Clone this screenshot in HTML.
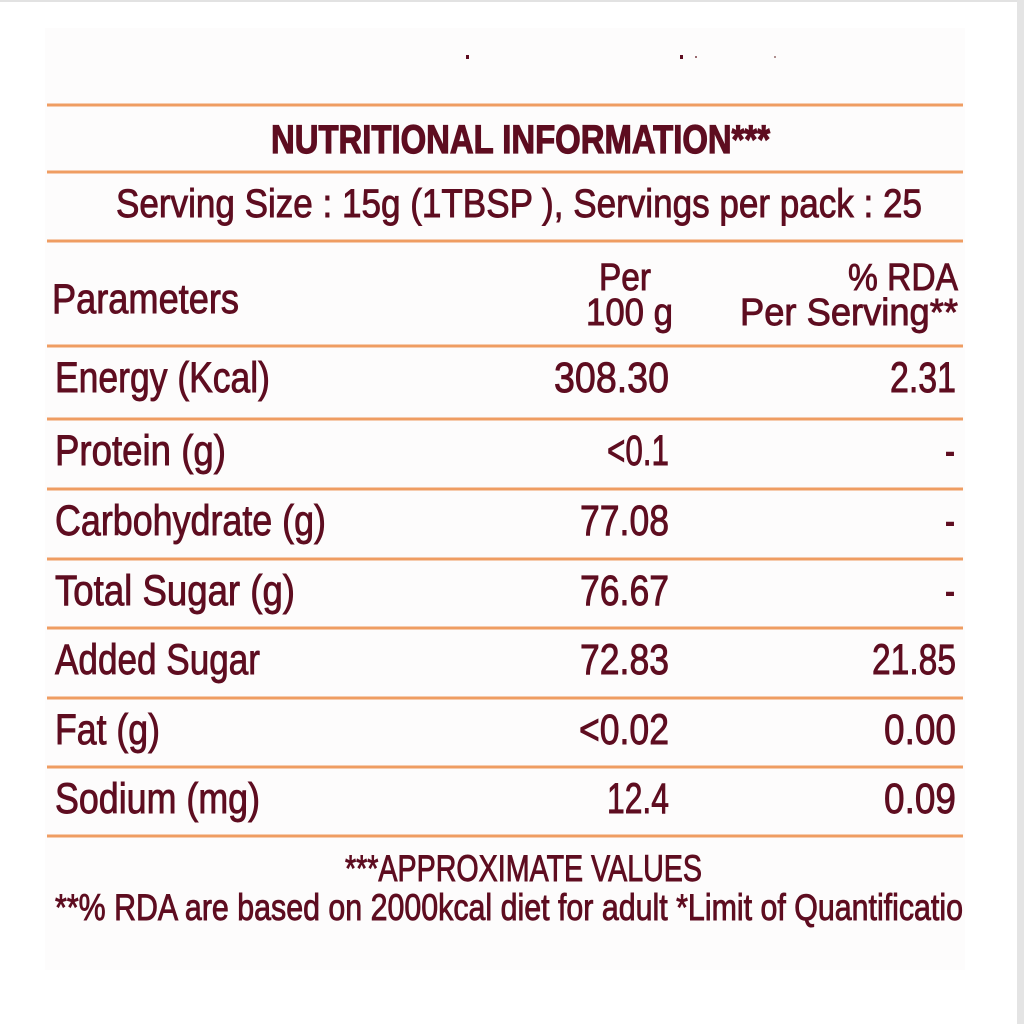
<!DOCTYPE html>
<html><head><meta charset="utf-8"><style>
html,body{margin:0;padding:0;background:#fff;}
svg{display:block;}
text{font-family:"Liberation Sans",sans-serif;fill:#5e0d20;stroke:#5e0d20;stroke-width:0.9;}
</style></head><body>
<svg width="1024" height="1024" viewBox="0 0 1024 1024" xmlns="http://www.w3.org/2000/svg">
<rect x="0" y="0" width="1024" height="1024" fill="#ffffff"/>
<rect x="0" y="0" width="1024" height="2" fill="#e2e2e2"/>
<rect x="1017" y="0" width="7" height="1024" fill="#e4e4e4"/>
<rect x="45" y="28" width="920" height="942" fill="#fdfcfc"/>
<!-- stray marks -->
<rect x="466" y="55" width="3" height="4" fill="#5e0d20"/>
<rect x="680" y="55" width="3" height="4" fill="#5e0d20"/>
<rect x="695" y="56" width="2" height="2" fill="#9a6a70"/>
<rect x="774" y="56" width="2" height="2" fill="#b09090"/>
<!-- lines -->
<g fill="#ef9d62">
<rect x="47" y="103.5" width="916" height="3"/>
<rect x="47" y="170.5" width="916" height="3"/>
<rect x="47" y="239.5" width="916" height="3"/>
<rect x="47" y="344.5" width="916" height="3"/>
<rect x="47" y="417.5" width="916" height="3"/>
<rect x="47" y="487.5" width="916" height="3"/>
<rect x="47" y="557.5" width="916" height="3"/>
<rect x="47" y="626.5" width="916" height="3"/>
<rect x="47" y="696.5" width="916" height="3"/>
<rect x="47" y="765.5" width="916" height="3"/>
<rect x="47" y="834.5" width="916" height="3"/>
</g>
<!-- title -->
<text x="271" y="153" font-size="40" font-weight="bold" style="stroke-width:1.2" textLength="499" lengthAdjust="spacingAndGlyphs">NUTRITIONAL INFORMATION***</text>
<text x="116" y="217" font-size="40" textLength="806" lengthAdjust="spacingAndGlyphs">Serving Size : 15g (1TBSP ),  Servings per pack : 25</text>
<!-- header -->
<text x="52" y="313" font-size="42" textLength="187" lengthAdjust="spacingAndGlyphs">Parameters</text>
<text x="651" y="290" font-size="38" text-anchor="end" textLength="52" lengthAdjust="spacingAndGlyphs">Per</text>
<text x="673" y="325" font-size="38" text-anchor="end" textLength="87" lengthAdjust="spacingAndGlyphs">100 g</text>
<text x="958" y="290" font-size="38" text-anchor="end" textLength="110" lengthAdjust="spacingAndGlyphs">% RDA</text>
<text x="958" y="325" font-size="38" text-anchor="end" textLength="218" lengthAdjust="spacingAndGlyphs">Per Serving**</text>
<!-- rows -->
<g font-size="43">
<text x="55" y="392" textLength="215" lengthAdjust="spacingAndGlyphs">Energy (Kcal)</text>
<text x="669" y="392" text-anchor="end" textLength="115" lengthAdjust="spacingAndGlyphs">308.30</text>
<text x="956" y="392" text-anchor="end" textLength="66" lengthAdjust="spacingAndGlyphs">2.31</text>

<text x="55" y="465" textLength="171" lengthAdjust="spacingAndGlyphs">Protein (g)</text>
<text x="669" y="465" text-anchor="end" textLength="62" lengthAdjust="spacingAndGlyphs">&lt;0.1</text>
<text x="955" y="465" text-anchor="end" textLength="10" lengthAdjust="spacingAndGlyphs">-</text>

<text x="55" y="535" textLength="271" lengthAdjust="spacingAndGlyphs">Carbohydrate (g)</text>
<text x="669" y="535" text-anchor="end" textLength="89" lengthAdjust="spacingAndGlyphs">77.08</text>
<text x="955" y="535" text-anchor="end" textLength="10" lengthAdjust="spacingAndGlyphs">-</text>

<text x="55" y="605" textLength="240" lengthAdjust="spacingAndGlyphs">Total Sugar (g)</text>
<text x="669" y="605" text-anchor="end" textLength="89" lengthAdjust="spacingAndGlyphs">76.67</text>
<text x="955" y="605" text-anchor="end" textLength="10" lengthAdjust="spacingAndGlyphs">-</text>

<text x="55" y="674" textLength="205" lengthAdjust="spacingAndGlyphs">Added Sugar</text>
<text x="669" y="674" text-anchor="end" textLength="89" lengthAdjust="spacingAndGlyphs">72.83</text>
<text x="956" y="674" text-anchor="end" textLength="84" lengthAdjust="spacingAndGlyphs">21.85</text>

<text x="55" y="744" textLength="105" lengthAdjust="spacingAndGlyphs">Fat (g)</text>
<text x="669" y="744" text-anchor="end" textLength="90" lengthAdjust="spacingAndGlyphs">&lt;0.02</text>
<text x="956" y="744" text-anchor="end" textLength="72" lengthAdjust="spacingAndGlyphs">0.00</text>

<text x="55" y="813" textLength="205" lengthAdjust="spacingAndGlyphs">Sodium (mg)</text>
<text x="669" y="813" text-anchor="end" textLength="62" lengthAdjust="spacingAndGlyphs">12.4</text>
<text x="956" y="813" text-anchor="end" textLength="72" lengthAdjust="spacingAndGlyphs">0.09</text>
</g>
<!-- footer -->
<text x="345" y="881" font-size="37" textLength="357" lengthAdjust="spacingAndGlyphs">***APPROXIMATE VALUES</text>
<text x="55" y="920" font-size="37" textLength="908" lengthAdjust="spacingAndGlyphs">**% RDA are based on 2000kcal diet for adult *Limit of Quantificatio</text>
</svg>
</body></html>
